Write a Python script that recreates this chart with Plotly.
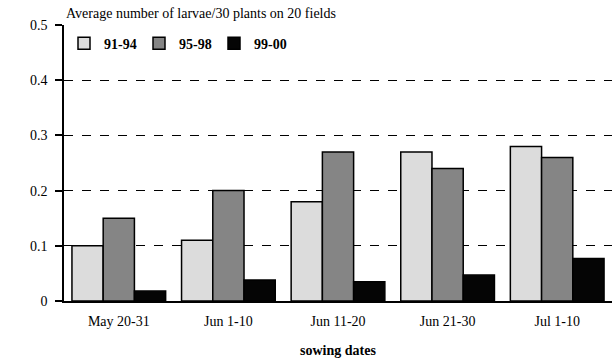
import plotly.graph_objects as go

# Sowing date classes and mean larvae counts per period
categories = ["May 20-31", "Jun 1-10", "Jun 11-20", "Jun 21-30", "Jul 1-10"]
series_names = ["91-94", "95-98", "99-00"]
values_91_94 = [0.10, 0.11, 0.18, 0.27, 0.28]
values_95_98 = [0.15, 0.20, 0.27, 0.24, 0.26]
values_99_00 = [0.018, 0.038, 0.035, 0.047, 0.077]
y_ticks = [0, 0.1, 0.2, 0.3, 0.4, 0.5]
y_tick_labels = ["0", "0.1", "0.2", "0.3", "0.4", "0.5"]

colors = ["#dcdcdc", "#858585", "#050505"]
serif = "Liberation Serif"

fig = go.Figure()
for name, vals, col in zip(series_names, [values_91_94, values_95_98, values_99_00], colors):
    fig.add_trace(go.Bar(
        x=categories, y=vals, name=name,
        marker=dict(color=col, line=dict(color="#000000", width=1.5)),
    ))

fig.update_layout(
    width=612, height=360,
    margin=dict(l=64, r=0, t=25, b=59),
    paper_bgcolor="white", plot_bgcolor="white",
    barmode="group", bargap=0.145, bargroupgap=0,
    font=dict(family=serif, size=14, color="black"),
    legend=dict(
        orientation="h", x=0.0, y=0.99, xanchor="left", yanchor="top",
        font=dict(family=serif, size=14, color="black", weight="bold"),
        bgcolor="rgba(0,0,0,0)", itemwidth=30,
        entrywidth=30, entrywidthmode="pixels",
    ),
    xaxis=dict(
        showline=True, linecolor="black", linewidth=1.5,
        ticks="", tickfont=dict(family=serif, size=14), ticklabelstandoff=6,
        title=dict(text="sowing dates", font=dict(family=serif, size=14, weight="bold"), standoff=18),
        showgrid=False,
    ),
    yaxis=dict(
        range=[0, 0.5], tickvals=y_ticks, ticktext=y_tick_labels,
        showline=True, linecolor="black", linewidth=1.5,
        ticks="outside", ticklen=7, tickcolor="black", tickwidth=1.5,
        ticklabelstandoff=5,
        showgrid=True, gridcolor="black", gridwidth=1, griddash="dash",
        zeroline=False, tickfont=dict(family=serif, size=14),
    ),
    annotations=[dict(
        text="Average number of larvae/30 plants on 20 fields",
        xref="paper", yref="paper", x=0.0, y=1.0, xanchor="left", yanchor="bottom",
        showarrow=False, font=dict(family=serif, size=14, color="black"), yshift=2,
    )],
)

fig.write_html("out.html")
